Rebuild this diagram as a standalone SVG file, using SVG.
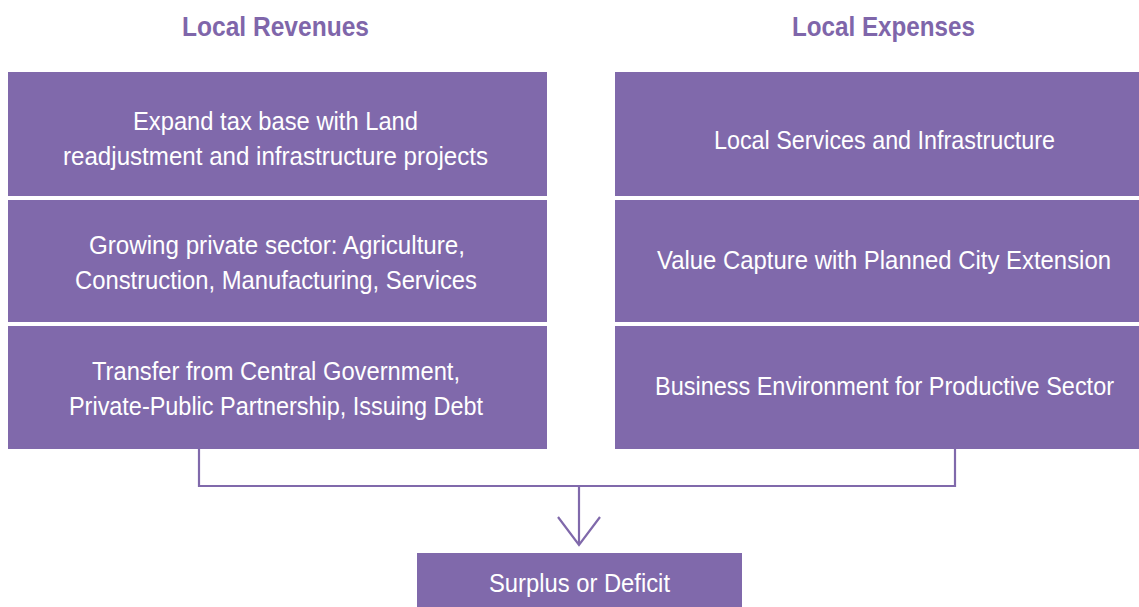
<svg xmlns="http://www.w3.org/2000/svg" width="1139" height="607" viewBox="0 0 1139 607">
<style>
.box{fill:#8069ab;}
.t{font-family:"Liberation Sans Narrow","Liberation Sans",sans-serif;font-size:26px;fill:#ffffff;text-anchor:middle;}
.h{font-family:"Liberation Sans Narrow","Liberation Sans",sans-serif;font-size:27px;font-weight:bold;fill:#7f66aa;text-anchor:middle;}
.c{fill:none;stroke:#8069ab;stroke-width:2.2;}
</style>
<rect width="1139" height="607" fill="#ffffff"/>
<text class="h" x="275.5" y="36" textLength="187" lengthAdjust="spacingAndGlyphs">Local Revenues</text>
<text class="h" x="883.5" y="36" textLength="183" lengthAdjust="spacingAndGlyphs">Local Expenses</text>
<g id="rev1"><rect class="box" x="8" y="72" width="539" height="124"/>
<text class="t" x="275.5" y="130" textLength="285" lengthAdjust="spacingAndGlyphs">Expand tax base with Land</text>
<text class="t" x="275.5" y="165" textLength="425" lengthAdjust="spacingAndGlyphs">readjustment and infrastructure projects</text></g>
<g id="rev2"><rect class="box" x="8" y="200" width="539" height="122"/>
<text class="t" x="277" y="254" textLength="376" lengthAdjust="spacingAndGlyphs">Growing private sector: Agriculture,</text>
<text class="t" x="276" y="289" textLength="402" lengthAdjust="spacingAndGlyphs">Construction, Manufacturing, Services</text></g>
<g id="rev3"><rect class="box" x="8" y="326" width="539" height="123"/>
<text class="t" x="276" y="380" textLength="368" lengthAdjust="spacingAndGlyphs">Transfer from Central Government,</text>
<text class="t" x="276" y="415" textLength="414" lengthAdjust="spacingAndGlyphs">Private-Public Partnership, Issuing Debt</text></g>
<g id="exp1"><rect class="box" x="615" y="72" width="524" height="124"/>
<text class="t" x="884.5" y="149" textLength="341" lengthAdjust="spacingAndGlyphs">Local Services and Infrastructure</text></g>
<g id="exp2"><rect class="box" x="615" y="200" width="524" height="122"/>
<text class="t" x="884" y="269" textLength="454" lengthAdjust="spacingAndGlyphs">Value Capture with Planned City Extension</text></g>
<g id="exp3"><rect class="box" x="615" y="326" width="524" height="123"/>
<text class="t" x="884.5" y="395" textLength="459" lengthAdjust="spacingAndGlyphs">Business Environment for Productive Sector</text></g>
<g id="result"><rect class="box" x="417" y="553" width="325" height="54"/>
<text class="t" x="579.5" y="592" textLength="181" lengthAdjust="spacingAndGlyphs">Surplus or Deficit</text></g>
<g id="connectors">
<path class="c" d="M199 449 V486 H955 V449"/>
<path class="c" d="M579 486 V544"/>
<path class="c" d="M558 517 L579 545 L600 517"/>
</g>
</svg>
